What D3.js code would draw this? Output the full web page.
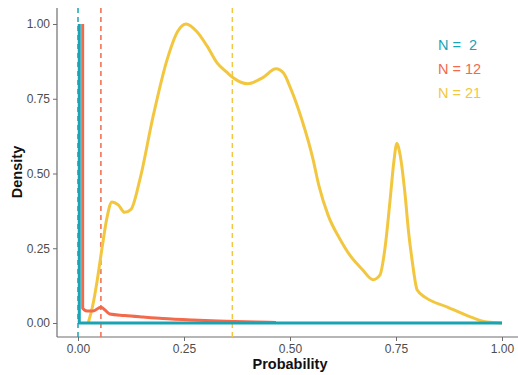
<!DOCTYPE html>
<html>
<head>
<meta charset="utf-8">
<script src="https://cdn.jsdelivr.net/npm/d3@7"></script>
<style>
  body { margin: 0; background: #fff; }
  text { font-family: "Liberation Sans", Arial, sans-serif; }
</style>
</head>
<body>
<div id="chart"></div>
<script>
// values
let seriesNames = ["N =  2", "N = 12", "N = 21"];
let seriesColors = ["#1aa3b3", "#f26a4b", "#f2c73f"];
let meanProb = [0.0, 0.054, 0.364];

let n2X = [0.003, 0.003, 1.0];
let n2Y = [1.0, 0.0, 0.0];

let n12X = [0.011, 0.011, 0.014, 0.022, 0.035, 0.054, 0.075, 0.11, 0.153, 0.2, 0.27, 0.35, 0.42, 0.467];
let n12Y = [1.0, 0.05, 0.045, 0.04, 0.04, 0.053, 0.03, 0.025, 0.02, 0.015, 0.01, 0.006, 0.003, 0.002];

let n21X = [0.024, 0.035, 0.045, 0.057, 0.068, 0.08, 0.095, 0.11, 0.125, 0.146, 0.177, 0.21, 0.235, 0.255, 0.28, 0.305, 0.328, 0.35, 0.366, 0.4, 0.435, 0.467, 0.485, 0.5, 0.528, 0.554, 0.568, 0.59, 0.618, 0.642, 0.67, 0.696, 0.712, 0.724, 0.736, 0.745, 0.752, 0.76, 0.771, 0.78, 0.788, 0.8, 0.82, 0.87, 0.932, 0.965, 1.0];
let n21Y = [0.0, 0.06, 0.14, 0.254, 0.35, 0.405, 0.395, 0.37, 0.38, 0.48, 0.69, 0.88, 0.975, 1.0, 0.975, 0.925, 0.87, 0.84, 0.82, 0.8, 0.82, 0.85, 0.835, 0.79, 0.68, 0.55, 0.46, 0.36, 0.28, 0.225, 0.18, 0.145, 0.16, 0.25, 0.41, 0.54, 0.6, 0.56, 0.435, 0.3, 0.21, 0.11, 0.085, 0.054, 0.017, 0.003, 0.0];

let xTicks = [0, 0.25, 0.5, 0.75, 1.0];
let yTicks = [0, 0.25, 0.5, 0.75, 1.0];

let width = 518, height = 375;

let svg = d3.select("#chart")
            .append("svg")
            .attr("width", width)
            .attr("height", height);

// scales (ggplot style 5% expansion)
let x = d3.scaleLinear().domain([0, 1]).range([78, 502]);
let y = d3.scaleLinear().domain([0, 1]).range([323, 24]);
let panelTop = 8, panelBottom = 337, panelLeft = 57;

let axisColor = "#6e6e6e";

// axes lines
svg.append("line")
   .attr("x1", panelLeft).attr("x2", panelLeft)
   .attr("y1", panelTop).attr("y2", panelBottom)
   .attr("stroke", axisColor).attr("stroke-width", 1.2);
svg.append("line")
   .attr("x1", panelLeft).attr("x2", width)
   .attr("y1", panelBottom).attr("y2", panelBottom)
   .attr("stroke", axisColor).attr("stroke-width", 1.2);

// y axis
let yAxis = svg.append("g")
   .attr("transform", "translate(" + panelLeft + ",0)")
   .call(d3.axisLeft(y).tickValues(yTicks).tickFormat(d3.format(".2f")).tickSize(4).tickPadding(3));
yAxis.select(".domain").remove();

// x axis
let xAxis = svg.append("g")
   .attr("transform", "translate(0," + panelBottom + ")")
   .call(d3.axisBottom(x).tickValues(xTicks).tickFormat(d3.format(".2f")).tickSize(4).tickPadding(3));
xAxis.select(".domain").remove();

svg.selectAll(".tick line").attr("stroke", axisColor);
svg.selectAll(".tick text")
   .attr("fill", "#4d4d4d")
   .style("font-size", "12px")
   .style("font-family", "'Liberation Sans', Arial, sans-serif");

// axis titles
svg.append("text")
   .attr("x", 290).attr("y", 369)
   .attr("text-anchor", "middle")
   .attr("font-weight", "bold")
   .attr("font-size", "14.5px")
   .attr("fill", "#111")
   .text("Probability");

svg.append("text")
   .attr("transform", "translate(22,172) rotate(-90)")
   .attr("text-anchor", "middle")
   .attr("font-weight", "bold")
   .attr("font-size", "14.5px")
   .attr("fill", "#111")
   .text("Density");

// dashed mean lines
meanProb.forEach((m, i) => {
    svg.append("line")
       .attr("x1", x(m)).attr("x2", x(m))
       .attr("y1", panelTop).attr("y2", panelBottom)
       .attr("stroke", seriesColors[i])
       .attr("stroke-width", 1.5)
       .attr("stroke-dasharray", "5,4");
});

// density curves: N=21 first, then N=12, then N=2 on top
let line = d3.line()
             .x(d => x(d[0]))
             .y(d => y(d[1]));

let curves = [
    { xs: n21X, ys: n21Y, color: seriesColors[2], curve: d3.curveMonotoneX },
    { xs: n12X, ys: n12Y, color: seriesColors[1], curve: d3.curveMonotoneX },
    { xs: n2X, ys: n2Y, color: seriesColors[0], curve: d3.curveLinear }
];

curves.forEach(c => {
    let pts = c.xs.map((v, i) => [v, c.ys[i]]);
    svg.append("path")
       .datum(pts)
       .attr("fill", "none")
       .attr("stroke", c.color)
       .attr("stroke-width", 3)
       .attr("stroke-linejoin", "round")
       .attr("d", line.curve(c.curve));
});

// legend
seriesNames.forEach((name, i) => {
    svg.append("text")
       .attr("x", 438)
       .attr("y", 50 + i * 24)
       .attr("font-size", "14.5px")
       .attr("fill", seriesColors[i])
       .style("white-space", "pre")
       .text(name);
});
</script>
</body>
</html>
